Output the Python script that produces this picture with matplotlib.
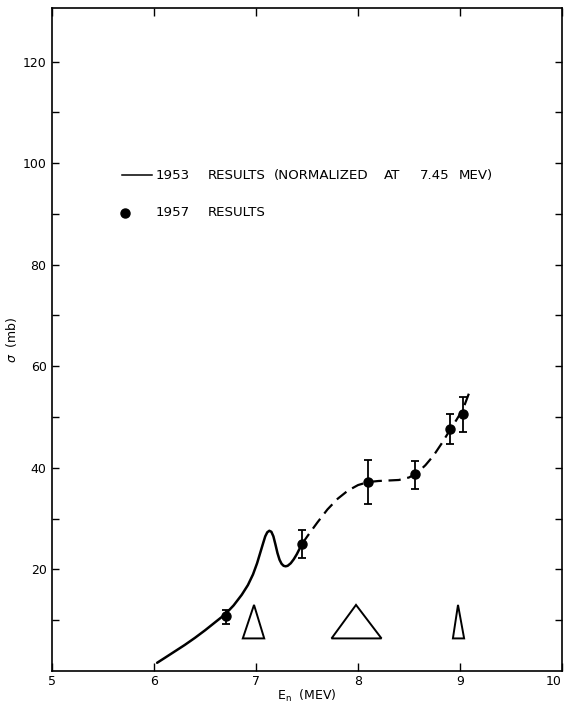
import numpy as np
import matplotlib.pyplot as plt
from matplotlib.patches import Polygon

# 1953 results, solid part
e_solid = [6.03, 6.10, 6.20, 6.30, 6.40, 6.50, 6.60, 6.70, 6.78, 6.86, 6.92, 6.97,
           7.01, 7.04, 7.07, 7.09, 7.11, 7.13, 7.15, 7.17, 7.19, 7.21, 7.23, 7.25,
           7.27, 7.29, 7.31, 7.34, 7.37, 7.40, 7.43, 7.45]
s_solid = [1.6, 2.5, 3.8, 5.1, 6.5, 8.0, 9.6, 11.2, 12.9, 15.0, 16.9, 19.0,
           21.2, 23.2, 25.2, 26.5, 27.3, 27.6, 27.4, 26.5, 24.9, 23.2, 21.9, 21.1,
           20.7, 20.6, 20.7, 21.2, 22.0, 23.0, 24.2, 25.0]

# dashed continuation
e_dash = [7.45, 7.52, 7.60, 7.70, 7.80, 7.90, 8.00, 8.10, 8.20, 8.30, 8.40,
          8.50, 8.58, 8.66, 8.74, 8.82, 8.90, 8.97, 9.03, 9.09]
s_dash = [25.0, 27.0, 29.2, 31.8, 33.9, 35.5, 36.6, 37.2, 37.4, 37.5, 37.6,
          38.1, 39.0, 40.5, 42.4, 44.8, 47.4, 49.6, 51.6, 54.8]

# 1957 results
e_pts = [6.71, 7.45, 8.10, 8.56, 8.90, 9.03]
s_pts = [10.9, 25.0, 37.2, 38.7, 47.6, 50.5]
s_lo = [9.3, 22.2, 32.9, 35.9, 44.6, 47.0]
s_hi = [12.0, 27.7, 41.5, 41.3, 50.5, 54.0]

# energy resolution triangles: (left, tip, right)
tri_e = [(6.87, 6.98, 7.08), (7.74, 7.98, 8.23), (8.93, 8.98, 9.04)]
tri_base, tri_top = 6.4, 13.0

# legend lettering, word by word (widely spaced in the original)
leg1_words = ['1953', 'RESULTS', '(NORMALIZED', 'AT', '7.45', 'MEV)']
leg1_x = [6.014, 6.526, 7.175, 8.258, 8.602, 8.986]
leg2_words = ['1957', 'RESULTS']
leg2_x = [6.014, 6.526]

fig = plt.figure(figsize=(5.66, 7.04), dpi=100)
ax = fig.add_axes([0.092, 0.047, 0.901, 0.942])

ax.plot(e_solid, s_solid, color='black', lw=1.8, solid_capstyle='round',
        solid_joinstyle='round')
ax.plot(e_dash, s_dash, color='black', lw=1.6, dashes=(5.5, 3))

err = [np.array(s_pts) - np.array(s_lo), np.array(s_hi) - np.array(s_pts)]
ax.errorbar(e_pts, s_pts, yerr=err, fmt='o', color='black', ms=6.5,
            elinewidth=1.3, capsize=3, capthick=1.3)

for l, t, r in tri_e:
    ax.add_patch(Polygon([(l, tri_base), (t, tri_top), (r, tri_base)],
                         closed=True, fill=False, lw=1.4, ec='black',
                         joinstyle='miter'))

# legend drawn by hand like the original
ax.plot([5.689, 5.984], [97.6, 97.6], color='black', lw=1.1)
for w, xw in zip(leg1_words, leg1_x):
    ax.text(xw, 97.6, w, va='center', ha='left', fontsize=9.6)
ax.plot([5.718], [90.2], 'o', color='black', ms=6.5)
for w, xw in zip(leg2_words, leg2_x):
    ax.text(xw, 90.2, w, va='center', ha='left', fontsize=9.6)

ax.set_xlim(5, 10)
ax.set_ylim(0, 130.6)
ax.set_xticks([5, 6, 7, 8, 9, 10])
ax.set_xticklabels(['5', '6', '7', '8', '9', '10'])
ax.get_xticklabels()[-1].set_ha('right')
ax.set_yticks(np.arange(10, 130, 10))
ax.set_yticklabels(['' if v % 20 else str(v) for v in range(10, 130, 10)])
ax.tick_params(axis='y', direction='in', length=5, width=1, left=True, right=True,
               labelsize=9, pad=4)
ax.tick_params(axis='x', direction='in', length=6, width=1, top=True, bottom=True,
               labelsize=9, pad=3)
for s in ax.spines.values():
    s.set_linewidth(1.2)

ax.set_xlabel(r'E$_\mathregular{n}$  (MEV)', fontsize=9, labelpad=0)
ax.set_ylabel(r'$\sigma$  (mb)', fontsize=9)
ax.yaxis.set_label_coords(-0.064, 0.5)

fig.savefig('out.png', dpi=100)
